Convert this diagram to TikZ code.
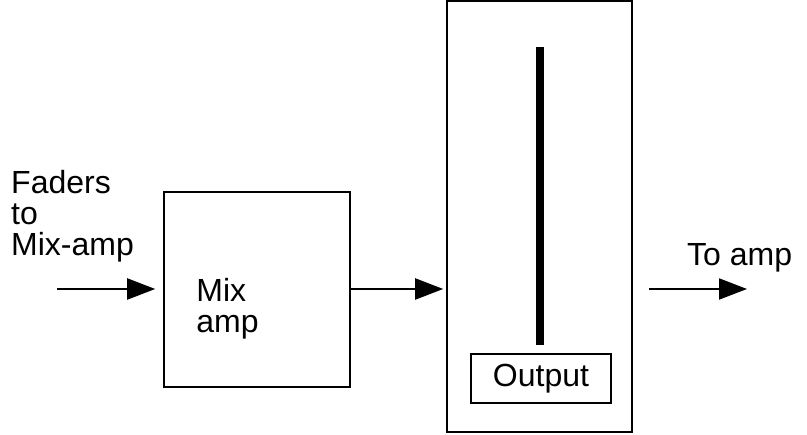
\documentclass[tikz,border=0pt]{standalone}
\usepackage{fontspec}
\setmainfont{Liberation Sans}
\usetikzlibrary{positioning, arrows.meta}

\begin{document}
\begin{tikzpicture}[
    x=1pt, y=1pt,
    style={font=\fontsize{32}{31}\selectfont},
    box/.style={draw, line width=1.6pt, inner sep=0pt},
    lbl/.style={inner sep=0pt, align=left},
    arr/.style={line width=2pt, -{Triangle[length=28pt, width=21pt]}}
]
\useasboundingbox (0,0) rectangle (807,435);
  % Mix amp block
  \node[box, minimum width=186pt, minimum height=195pt] (mix) at (257,145.5) {};
  \node[lbl, anchor=west] (mixlabel) at ([xshift=33pt, yshift=-19pt]mix.west) {Mix\\amp};
  \node[lbl, anchor=north west] (faders) at (11,265) {Faders\\to\\Mix-amp};

  % Fader block with output
  \node[box, minimum width=185pt, minimum height=431pt] (fader) at (539.5,218.5) {};
  \node[box, minimum width=140pt, minimum height=49pt] (outbox) at (541,56.5) {Output};
  \coordinate (bartop) at ([yshift=-47pt]fader.north);
  \draw[line width=8pt, shorten >=8pt] (bartop) -- (bartop |- outbox.north);

  % Signal path
  \coordinate (in) at (57,146);
  \coordinate (out) at (747,146);
  \draw[arr] (in) -- ([xshift=-8pt]in -| mix.west);
  \draw[arr, shorten >=3pt] (in -| mix.east) -- (in -| fader.west);
  \draw[arr] (out -| fader.east) ++(16,0) -- (out);
  \node[lbl, anchor=base west] (toamp) at (687,169) {To amp};
\end{tikzpicture}
\end{document}
